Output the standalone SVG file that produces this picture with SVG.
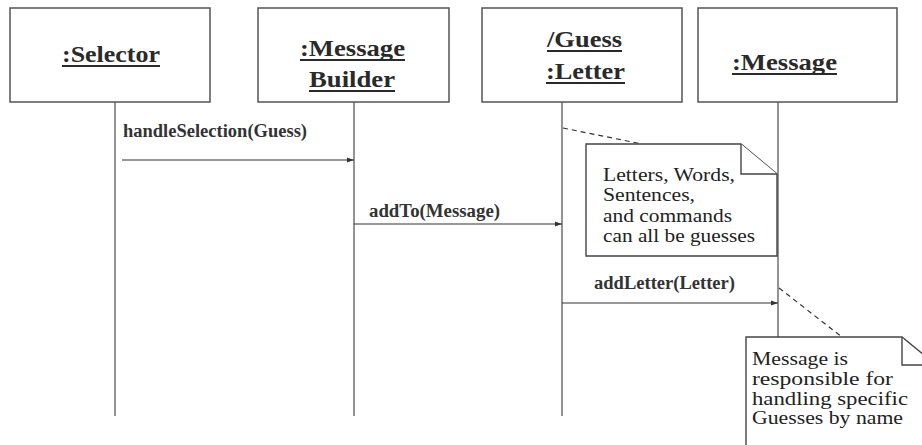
<svg xmlns="http://www.w3.org/2000/svg" width="922" height="445" viewBox="0 0 922 445">
  <defs>
    <style>
      .box { fill: #fff; stroke: #555; stroke-width: 1.5; }
      .life { stroke: #666; stroke-width: 1.4; fill: none; }
      .title { font-family: "Liberation Serif", "Times New Roman", "DejaVu Serif", serif; font-weight: bold; font-size: 24px; fill: #2a2a2a; }
      .uline { stroke: #2a2a2a; stroke-width: 2.2; }
      .msg { stroke: #333; stroke-width: 1.2; fill: none; marker-end: url(#arrow); }
      .msglabel { font-family: "Liberation Serif", "Times New Roman", "DejaVu Serif", serif; font-weight: bold; font-size: 18px; fill: #333; }
      .note { fill: #fff; stroke: #444; stroke-width: 1.4; }
      .notetext { font-family: "Liberation Serif", "Times New Roman", "DejaVu Serif", serif; font-size: 19px; fill: #222; }
      .anchor { stroke: #333; stroke-width: 1.2; stroke-dasharray: 5 4; fill: none; }
    </style>
    <marker id="arrow" markerWidth="8" markerHeight="6" refX="7" refY="3" orient="auto" markerUnits="userSpaceOnUse">
      <path d="M0,0.5 L7,3 L0,5.5 Z" fill="#333"/>
    </marker>
  </defs>
  <rect width="922" height="445" fill="#fff"/>

  <!-- lifelines -->
  <g id="lifelines">
    <line class="life" x1="115" y1="102" x2="115" y2="416"/>
    <line class="life" x1="354" y1="102" x2="354" y2="416"/>
    <line class="life" x1="562" y1="102" x2="562" y2="416"/>
    <line class="life" x1="778" y1="102" x2="778" y2="340"/>
  </g>

  <!-- objects -->
  <g id="selector">
    <rect class="box" x="10" y="8" width="200" height="94"/>
    <text class="title" x="62" y="62" textLength="98" lengthAdjust="spacingAndGlyphs">:Selector</text>
    <line class="uline" x1="62" y1="66" x2="160" y2="66"/>
  </g>
  <g id="message-builder">
    <rect class="box" x="258" y="8" width="191" height="94"/>
    <text class="title" x="300" y="56" textLength="105" lengthAdjust="spacingAndGlyphs">:Message</text>
    <line class="uline" x1="300" y1="60" x2="405" y2="60"/>
    <text class="title" x="309" y="87" textLength="86" lengthAdjust="spacingAndGlyphs">Builder</text>
    <line class="uline" x1="309" y1="91" x2="395" y2="91"/>
  </g>
  <g id="guess-letter">
    <rect class="box" x="482" y="8" width="200" height="94"/>
    <text class="title" x="547" y="47" textLength="75" lengthAdjust="spacingAndGlyphs">/Guess</text>
    <line class="uline" x1="547" y1="51" x2="622" y2="51"/>
    <text class="title" x="546" y="79" textLength="79" lengthAdjust="spacingAndGlyphs">:Letter</text>
    <line class="uline" x1="546" y1="83" x2="625" y2="83"/>
  </g>
  <g id="message">
    <rect class="box" x="698" y="8" width="199" height="94"/>
    <text class="title" x="732" y="70" textLength="105" lengthAdjust="spacingAndGlyphs">:Message</text>
    <line class="uline" x1="732" y1="74" x2="837" y2="74"/>
  </g>

  <!-- messages -->
  <g id="connectors">
    <line class="msg" x1="122" y1="160" x2="354" y2="160"/>
    <text class="msglabel" x="123" y="137" textLength="184" lengthAdjust="spacingAndGlyphs">handleSelection(Guess)</text>
    <line class="msg" x1="354" y1="224" x2="562" y2="224"/>
    <text class="msglabel" x="369" y="217" textLength="131" lengthAdjust="spacingAndGlyphs">addTo(Message)</text>
    <line class="msg" x1="562" y1="303" x2="778" y2="303"/>
    <text class="msglabel" x="594" y="289" textLength="141" lengthAdjust="spacingAndGlyphs">addLetter(Letter)</text>
    <line class="anchor" x1="563" y1="128" x2="642" y2="144"/>
    <line class="anchor" x1="779" y1="288" x2="842" y2="337"/>
  </g>

  <!-- notes -->
  <g id="note-guesses">
    <path class="note" d="M586,144 H741 L777,174 V256 H586 Z"/>
    <path class="note" d="M741,144 V174 H777" fill="none"/>
    <text class="notetext" x="603" y="181" textLength="132" lengthAdjust="spacingAndGlyphs">Letters, Words,</text>
    <text class="notetext" x="603" y="201" textLength="92" lengthAdjust="spacingAndGlyphs">Sentences,</text>
    <text class="notetext" x="603" y="222" textLength="129" lengthAdjust="spacingAndGlyphs">and commands</text>
    <text class="notetext" x="603" y="242" textLength="152" lengthAdjust="spacingAndGlyphs">can all be guesses</text>
  </g>
  <g id="note-message">
    <path class="note" d="M746,337 H902 L940,368 V460 H746 Z"/>
    <path class="note" d="M902,337 V365 H922" fill="none"/>
    <text class="notetext" x="752" y="365" textLength="96" lengthAdjust="spacingAndGlyphs">Message is</text>
    <text class="notetext" x="752" y="385" textLength="141" lengthAdjust="spacingAndGlyphs">responsible for</text>
    <text class="notetext" x="752" y="405" textLength="156" lengthAdjust="spacingAndGlyphs">handling specific</text>
    <text class="notetext" x="752" y="424" textLength="151" lengthAdjust="spacingAndGlyphs">Guesses by name</text>
  </g>
</svg>
